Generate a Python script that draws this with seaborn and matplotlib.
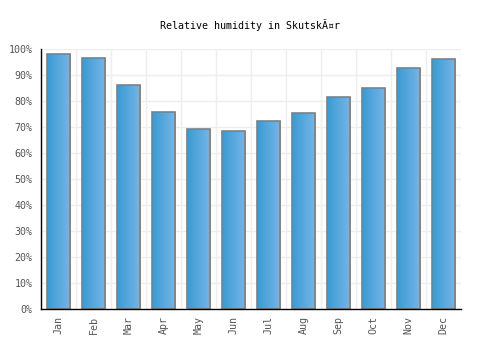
import matplotlib
matplotlib.use("Agg")
import matplotlib.pyplot as plt
import seaborn as sns
import numpy as np
import pandas as pd
from matplotlib.colors import LinearSegmentedColormap

months = ["Jan", "Feb", "Mar", "Apr", "May", "Jun", "Jul", "Aug", "Sep", "Oct", "Nov", "Dec"]
humidity = [98.1, 96.5, 86.2, 75.8, 69.2, 68.5, 72.3, 75.4, 81.5, 85.0, 92.7, 96.2]
yticks = [0, 10, 20, 30, 40, 50, 60, 70, 80, 90, 100]
ytick_labels = [f"{v}%" for v in yticks]
title = "Relative humidity in SkutskÃ¤r"

sns.set_style("white")
plt.rcParams["font.family"] = ["DejaVu Sans Mono", "DejaVu Sans"]

df = pd.DataFrame({"month": months, "humidity": humidity})

fig = plt.figure(figsize=(5, 3.5), dpi=100)
ax = fig.add_axes([41 / 500, 1 - 309 / 350, 420 / 500, 260 / 350])

sns.barplot(data=df, x="month", y="humidity", ax=ax, width=0.68,
            color="#4aa3dc", edgecolor="#808080", linewidth=1.2, saturation=1)

cmap = LinearSegmentedColormap.from_list("g", ["#3a9bd2", "#76b6ea"])
grad = np.linspace(0, 1, 64).reshape(1, -1)
for p in ax.patches:
    x0, y0 = p.get_x(), p.get_y()
    w, h = p.get_width(), p.get_height()
    im = ax.imshow(grad, cmap=cmap, aspect="auto", extent=[x0, x0 + w, y0, y0 + h],
                   zorder=p.get_zorder() + 0.1, interpolation="bilinear")
    im.set_clip_path(p)
    p.set_facecolor("none")
    p.set_zorder(p.get_zorder() + 0.2)

ax.set_xlim(-0.5, len(months) - 0.5)
ax.set_ylim(0, 100)
ax.set_yticks(yticks)
ax.set_yticklabels(ytick_labels)
ax.set_xlabel("")
ax.set_ylabel("")

for k in range(len(months) + 1):
    ax.axvline(k - 0.5, color="#eeeeee", lw=1, zorder=0)
for v in yticks[1:]:
    ax.axhline(v, color="#eeeeee", lw=1, zorder=0)

ax.tick_params(axis="x", labelrotation=90, length=0, pad=5, labelsize=7.2, labelcolor="#555555")
ax.tick_params(axis="y", length=0, pad=6, labelsize=7.2, labelcolor="#555555")

for s in ["top", "right"]:
    ax.spines[s].set_visible(False)
for s in ["left", "bottom"]:
    ax.spines[s].set_color("black")
    ax.spines[s].set_linewidth(1)
    ax.spines[s].set_zorder(5)

fig.text(0.5, 1 - 25 / 350, title, ha="center", va="center", fontsize=7.2, color="black")

fig.savefig("out.png", dpi=100)
